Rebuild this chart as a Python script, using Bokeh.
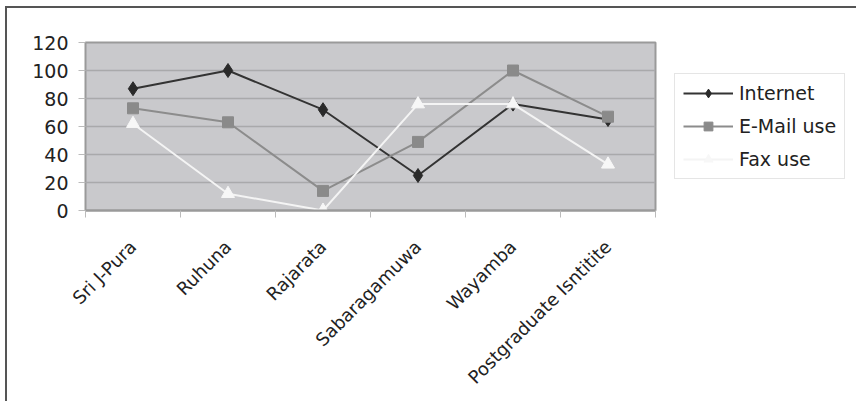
from bokeh.plotting import figure
from bokeh.models import Range1d, FixedTicker, Legend, LegendItem
from bokeh.embed import file_html
from bokeh.resources import INLINE
import math

categories = ["Sri J-Pura", "Ruhuna", "Rajarata", "Sabaragamuwa", "Wayamba", "Postgraduate Isntitite"]
internet = [87, 100, 72, 25, 76, 65]
email = [73, 63, 14, 49, 100, 67]
fax = [62, 12, 0, 76, 76, 33]
y_ticks = [0, 20, 40, 60, 80, 100, 120]

xs = [i + 0.5 for i in range(len(categories))]
FONT = "DejaVu Sans"

p = figure(frame_width=570, frame_height=168, output_backend="svg", toolbar_location=None,
           x_range=Range1d(0, len(categories)), y_range=Range1d(0, 120),
           min_border_left=78, min_border_right=10, min_border_top=34, min_border_bottom=191)
p.styles = {"border-top": "2px solid #555555", "border-left": "2px solid #555555",
            "margin-top": "6px", "margin-left": "5px"}
p.background_fill_color = "#c9c9cc"
p.border_fill_color = "white"
p.outline_line_color = "#9a9a9a"
p.outline_line_width = 2

# x axis
p.xaxis.ticker = FixedTicker(ticks=xs, minor_ticks=list(range(len(categories) + 1)))
p.xaxis.major_label_overrides = {x: c for x, c in zip(xs, categories)}
p.xaxis.major_label_orientation = math.pi / 4
p.xaxis.major_tick_out = 0
p.xaxis.major_tick_in = 0
p.xaxis.minor_tick_out = 7
p.xaxis.minor_tick_in = 0
p.xaxis.minor_tick_line_color = "#bbbbbb"
p.xaxis.axis_line_color = "#9a9a9a"
p.xaxis.axis_line_width = 2
p.xaxis.major_label_text_font = FONT
p.xaxis.major_label_text_font_size = "18px"
p.xaxis.major_label_text_color = "#222222"
p.xaxis.major_label_standoff = 26

# y axis
p.yaxis.ticker = FixedTicker(ticks=y_ticks)
p.yaxis.axis_line_color = None
p.yaxis.major_tick_out = 7
p.yaxis.major_tick_in = 0
p.yaxis.major_tick_line_color = "#bbbbbb"
p.yaxis.minor_tick_line_color = None
p.yaxis.major_label_text_font = FONT
p.yaxis.major_label_text_font_size = "19px"
p.yaxis.major_label_text_color = "#222222"
p.yaxis.major_label_standoff = 10

p.xgrid.grid_line_color = None
p.ygrid.ticker = FixedTicker(ticks=y_ticks)
p.ygrid.grid_line_color = "#a9a9ab"
p.ygrid.grid_line_width = 1.5

l1 = p.line(xs, internet, line_color="#333333", line_width=2)
m1 = p.scatter(xs, internet, marker="diamond", size=14, fill_color="#2a2a2a", line_color="#2a2a2a")
l2 = p.line(xs, email, line_color="#8c8c8c", line_width=2)
m2 = p.scatter(xs, email, marker="square", size=11, fill_color="#8a8a8a", line_color="#8a8a8a")
l3 = p.line(xs, fax, line_color="#f4f4f4", line_width=2)
m3 = p.scatter(xs, fax, marker="triangle", size=13, fill_color="#f7f7f7", line_color="#f7f7f7")

legend = Legend(items=[
    LegendItem(label="Internet", renderers=[l1, m1]),
    LegendItem(label="E-Mail use", renderers=[l2, m2]),
    LegendItem(label="Fax use", renderers=[l3, m3]),
], location=(19, 31))
legend.label_text_font = FONT
legend.label_text_font_size = "19px"
legend.label_text_color = "#222222"
legend.glyph_width = 50
legend.glyph_height = 22
legend.label_height = 22
legend.spacing = 11
legend.padding = 8
legend.margin = 0
legend.label_standoff = 6
legend.border_line_color = "#cccccc"
legend.border_line_width = 1
legend.background_fill_color = "white"
p.add_layout(legend, "right")

open("out.html", "w").write(file_html(p, INLINE))
